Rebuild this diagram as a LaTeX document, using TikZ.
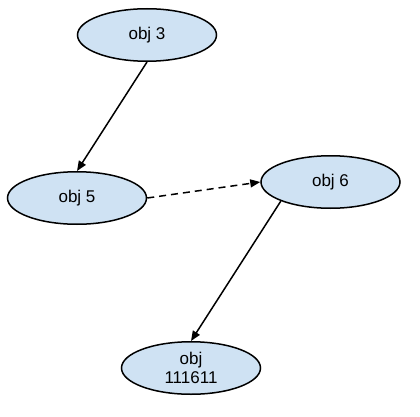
\documentclass[tikz,border=0pt]{standalone}
\usepackage{fontspec}
\setmainfont{Liberation Sans}
\usetikzlibrary{shapes.geometric,arrows.meta}
\definecolor{nodefill}{RGB}{207,226,243}
\begin{document}
\begin{tikzpicture}[x=1pt,y=-1pt,
  obj/.style={ellipse, draw=black, fill=nodefill, line width=1.5pt,
    minimum width=139pt, minimum height=52.5pt, inner sep=0pt,
    font=\fontsize{17}{19}\selectfont, align=center},
  link/.style={line width=1.5pt, -{Triangle[length=10pt,width=8pt]}},
  dashlink/.style={link, dash pattern=on 7pt off 5pt}]
\useasboundingbox (0,0) rectangle (420,417);
\node[obj] (o3) at (147,35) {obj 3};
\node[obj] (o5) at (77,198) {obj 5};
\node[obj] (o6) at (330.5,182) {obj 6};
\node[obj] (o7) at (191,368) {obj\\111611};
\draw[link] (o3.south) -- (o5.north);
\draw[dashlink] (o5.east) -- (o6.west);
\draw[link] (o6.south west) -- (o7.north);
\end{tikzpicture}
\end{document}
